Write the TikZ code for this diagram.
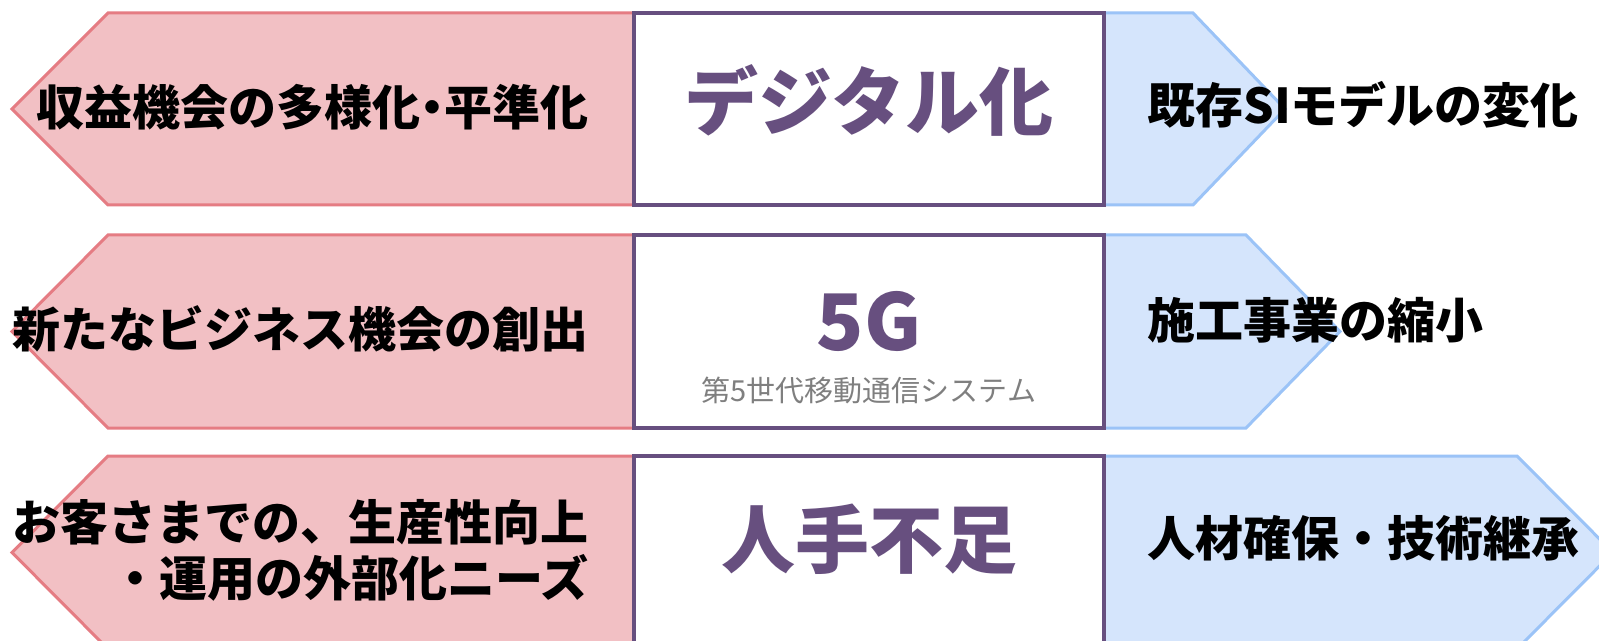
\documentclass[tikz,border=0pt]{standalone}
\usepackage{fontspec}
\setmainfont{Noto Sans CJK JP}
\usetikzlibrary{positioning}
\definecolor{pinkfill}{HTML}{F2C0C4}
\definecolor{pinkline}{HTML}{E57C83}
\definecolor{bluefill}{HTML}{D5E5FC}
\definecolor{blueline}{HTML}{9BC3F7}
\definecolor{boxline}{HTML}{674F7F}
\definecolor{subgray}{HTML}{7F7F7F}

\begin{document}
\begin{tikzpicture}[x=0.5pt,y=-0.5pt,
        pinkarrow/.style={fill=pinkfill,draw=pinkline,line width=1.5pt},
        bluearrow/.style={fill=bluefill,draw=blueline,line width=1.5pt},
        centerbox/.style={fill=white,draw=boxline,line width=2pt},
        sidetext/.style={inner sep=0pt,font=\bfseries\fontsize{24pt}{28pt}\selectfont},
        bigtext/.style={inner sep=0pt,text=boxline,font=\bfseries\fontsize{37pt}{40pt}\selectfont}
    ]
    \useasboundingbox (0,0) rectangle (1599,641);
    \clip (0,0) rectangle (1599,641);
    \fill[white] (0,0) rectangle (1599,641);

    \draw[pinkarrow] (12,109) -- (108,13) -- (700,13) -- (700,205) -- (108,205) -- cycle;
    \draw[bluearrow] (1000,13) -- (1193,13) -- (1285,109) -- (1193,205) -- (1000,205) -- cycle;
    \draw[centerbox] (634,13) rectangle (1104,205);

    \draw[pinkarrow] (12,331.5) -- (108,235) -- (700,235) -- (700,428) -- (108,428) -- cycle;
    \draw[bluearrow] (1000,235) -- (1246,235) -- (1340,331.5) -- (1246,428) -- (1000,428) -- cycle;
    \draw[centerbox] (634,235) rectangle (1104,428);

    \draw[pinkarrow] (12,552.5) -- (108,456) -- (700,456) -- (700,649) -- (108,649) -- cycle;
    \draw[bluearrow] (1000,456) -- (1517,456) -- (1613,552.5) -- (1517,649) -- (1000,649) -- cycle;
    \draw[centerbox] (634,456) rectangle (1104,649);

    \node[sidetext,anchor=east] (gain) at (589,107) {収益機会の多様化{\kern-.25em}・{\kern-.25em}平準化};
    \node[bigtext] (dx) at (869,100) {デジタル化};
    \node[sidetext,anchor=west] (simodel) at (1147,105) {既存SIモデルの変化};

    \node[sidetext,anchor=east] (newbiz) at (589,329) {新たなビジネス機会の創出};
    \node[inner sep=0pt,text=boxline,font=\bfseries\fontsize{39pt}{40pt}\selectfont] (g5) at (869,321) {5G};
    \node[inner sep=0pt,text=subgray,font=\fontsize{14.5pt}{16pt}\selectfont] (g5sub) at (869,390) {第5世代移動通信システム};
    \node[sidetext,anchor=west] (works) at (1147,320) {施工事業の縮小};

    \node[sidetext,anchor=east,align=right] (needs) at (589,550) {お客さまでの、生産性向上\\・運用の外部化ニーズ};
    \node[bigtext] (labor) at (869,539) {人手不足};
    \node[sidetext,anchor=west] (staff) at (1147,538) {人材確保・技術継承};
\end{tikzpicture}
\end{document}
